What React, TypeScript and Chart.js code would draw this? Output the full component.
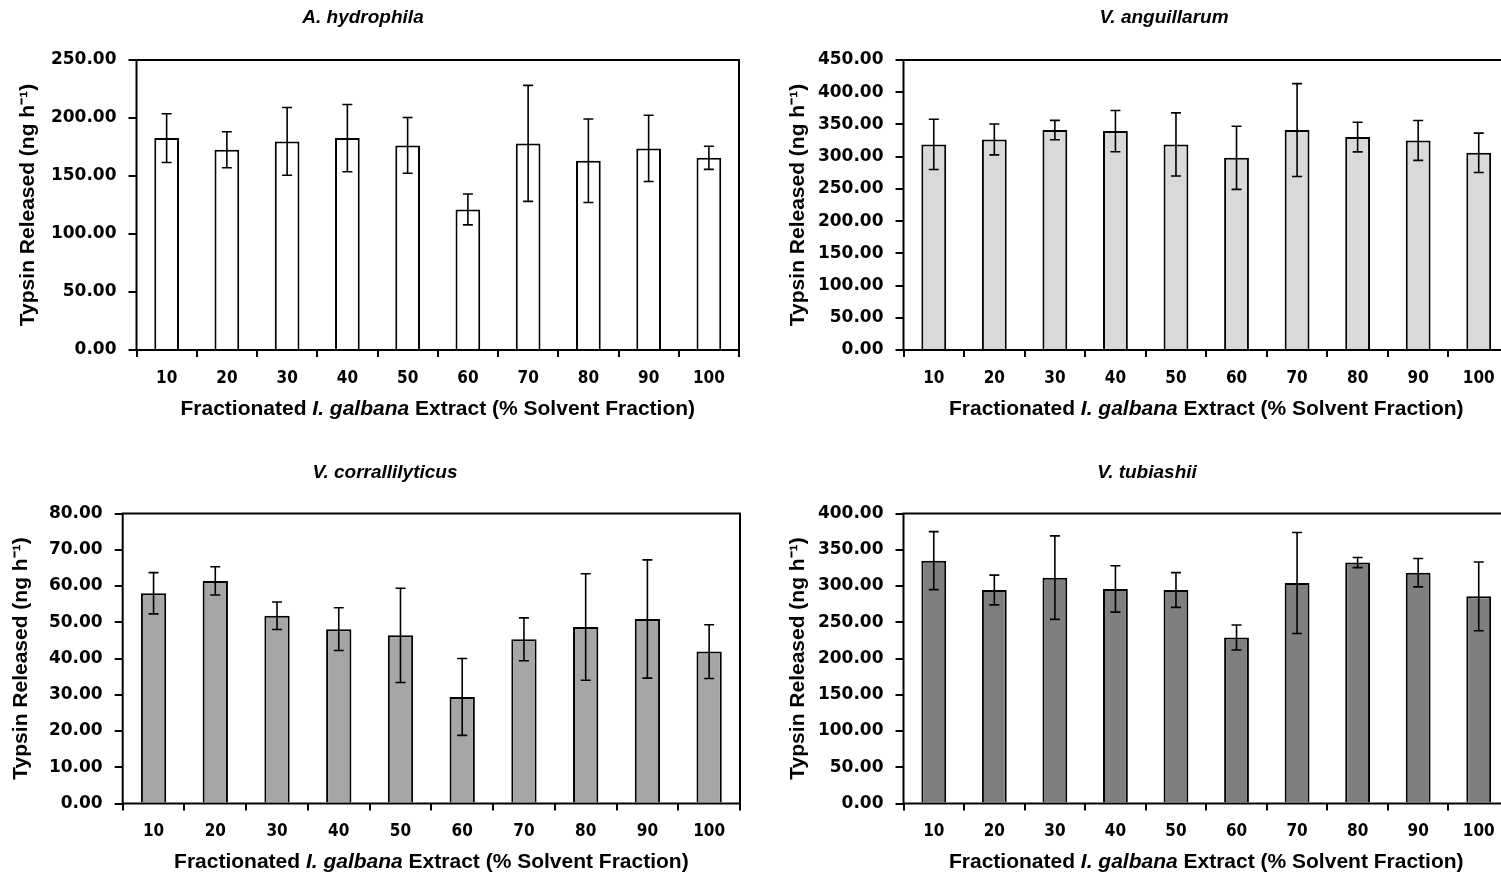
import React, { useEffect, useRef } from "react";
import { Chart, registerables } from "chart.js";

Chart.register(...registerables);

// ---------------- DATA ----------------
const categories = ["10", "20", "30", "40", "50", "60", "70", "80", "90", "100"];

const hydrophilaMeans = [182.7, 172.6, 179.8, 182.7, 176.4, 121.2, 178.1, 163.1, 173.8, 165.7];
const hydrophilaErrors = [21, 15.5, 29.2, 29, 24, 13.3, 50, 36, 28.6, 10];

const anguillarumMeans = [319, 326.8, 341.3, 339.7, 319, 298.2, 341.3, 330.4, 325.2, 306];
const anguillarumErrors = [39, 24, 15, 32, 49, 49, 72, 23, 31, 30.6];

const corrallilyticusMeans = [58.0, 61.4, 51.8, 48.1, 46.4, 29.4, 45.3, 48.7, 50.9, 41.9];
const corrallilyticusErrors = [5.7, 3.9, 3.8, 5.9, 13, 10.6, 5.9, 14.7, 16.3, 7.4];

const tubiashiiMeans = [335, 294.5, 311.5, 295.9, 294.5, 229, 304.1, 332.3, 318.4, 285.7];
const tubiashiiErrors = [40, 20.5, 57.6, 32, 24, 17.3, 69.6, 7, 19.6, 47.5];

const yTitle = "Typsin Released (ng h\u207B\u00B9)";
const xTitleParts = [
  { text: "Fractionated ", italic: false },
  { text: "I. galbana", italic: true },
  { text: " Extract (% Solvent Fraction)", italic: false },
];

// ---------------- STYLE ----------------
const YTICK_FONT = "'DejaVu Sans', Verdana, sans-serif";
const XTICK_FONT = "'DejaVu Sans Condensed', 'DejaVu Sans', sans-serif";
const WIDE = "'Liberation Sans', Arial, sans-serif";

type PanelSpec = {
  title: string;
  means: number[];
  errors: number[];
  yMax: number;
  yStep: number;
  color: string;
  left: number;
  top: number;
  width: number;
  height: number;
  padLeft: number;
  padTop: number;
  padRight: number;
  yWidth: number;
  xHeight: number;
  titleX: number;
  titleY: number;
  xTitleY: number;
};

const panels: PanelSpec[] = [
  {
    title: "A. hydrophila", means: hydrophilaMeans, errors: hydrophilaErrors, yMax: 250, yStep: 50, color: "#ffffff",
    left: 0, top: 0, width: 750, height: 438, padLeft: 12, padTop: 60, padRight: 11, yWidth: 124.5, xHeight: 88,
    titleX: 363, titleY: 18, xTitleY: 409,
  },
  {
    title: "V. anguillarum", means: anguillarumMeans, errors: anguillarumErrors, yMax: 450, yStep: 50, color: "#d9d9d9",
    left: 750, top: 0, width: 770, height: 438, padLeft: 32, padTop: 60, padRight: 11, yWidth: 121.5, xHeight: 88,
    titleX: 414, titleY: 18, xTitleY: 409,
  },
  {
    title: "V. corrallilyticus", means: corrallilyticusMeans, errors: corrallilyticusErrors, yMax: 80, yStep: 10, color: "#a6a6a6",
    left: 0, top: 438, width: 750, height: 438, padLeft: 5, padTop: 75.5, padRight: 10, yWidth: 117.7, xHeight: 72.5,
    titleX: 385, titleY: 35, xTitleY: 424,
  },
  {
    title: "V. tubiashii", means: tubiashiiMeans, errors: tubiashiiErrors, yMax: 400, yStep: 50, color: "#7f7f7f",
    left: 750, top: 438, width: 770, height: 438, padLeft: 32, padTop: 75.5, padRight: 11, yWidth: 121.5, xHeight: 72.5,
    titleX: 397, titleY: 35, xTitleY: 424,
  },
];

function Panel({ spec }: { spec: PanelSpec }) {
  const ref = useRef<HTMLCanvasElement | null>(null);

  useEffect(() => {
    const canvas = ref.current;
    if (!canvas) return;

    const decor = {
      id: "decor",
      afterDatasetsDraw(chart: any) {
        const ctx = chart.ctx;
        const area = chart.chartArea;
        const yScale = chart.scales.y;
        const meta = chart.getDatasetMeta(0);
        ctx.save();
        // error bars
        ctx.strokeStyle = "#000";
        ctx.lineWidth = 1.6;
        meta.data.forEach((bar: any, i: number) => {
          const v = spec.means[i];
          const e = spec.errors[i];
          const x = bar.x;
          const yt = yScale.getPixelForValue(v + e);
          const yb = yScale.getPixelForValue(v - e);
          ctx.beginPath();
          ctx.moveTo(x, yt);
          ctx.lineTo(x, yb);
          ctx.moveTo(x - 5, yt);
          ctx.lineTo(x + 5, yt);
          ctx.moveTo(x - 5, yb);
          ctx.lineTo(x + 5, yb);
          ctx.stroke();
        });
        // plot frame
        ctx.lineWidth = 2;
        ctx.strokeRect(area.left, area.top, area.right - area.left, area.bottom - area.top);
        ctx.restore();
      },
      afterDraw(chart: any) {
        const ctx = chart.ctx;
        const area = chart.chartArea;
        ctx.save();
        ctx.fillStyle = "#000";
        ctx.textBaseline = "middle";
        // panel title
        ctx.font = `italic bold 19px ${WIDE}`;
        ctx.textAlign = "center";
        ctx.fillText(spec.title, spec.titleX, spec.titleY);
        // x axis title with italic species name
        ctx.textAlign = "left";
        const fonts = xTitleParts.map((p) => (p.italic ? `italic bold 21px ${WIDE}` : `bold 21px ${WIDE}`));
        let total = 0;
        const widths = xTitleParts.map((p, i) => {
          ctx.font = fonts[i];
          const w = ctx.measureText(p.text).width;
          total += w;
          return w;
        });
        let x = (area.left + area.right) / 2 - total / 2;
        xTitleParts.forEach((p, i) => {
          ctx.font = fonts[i];
          ctx.fillText(p.text, x, spec.xTitleY);
          x += widths[i];
        });
        ctx.restore();
      },
    };

    const chart = new Chart(canvas, {
      type: "bar",
      data: {
        labels: categories,
        datasets: [
          {
            data: spec.means,
            backgroundColor: spec.color,
            borderColor: "#000",
            borderWidth: 2,
            borderSkipped: "start",
            categoryPercentage: 1,
            barPercentage: 0.41,
          },
        ],
      },
      options: {
        responsive: false,
        animation: false,
        devicePixelRatio: 1,
        layout: {
          padding: { left: spec.padLeft, top: spec.padTop, right: spec.padRight, bottom: 0 },
        },
        plugins: {
          legend: { display: false },
          title: { display: false },
          tooltip: { enabled: false },
        },
        scales: {
          x: {
            border: { display: false },
            grid: { display: true, drawOnChartArea: false, drawTicks: true, tickLength: 7, color: "#000", lineWidth: 2 },
            ticks: { color: "#000", padding: 11, font: { family: XTICK_FONT, size: 17, weight: "bold" }, maxRotation: 0 },
            afterFit: (s: any) => {
              s.height = spec.xHeight;
            },
          },
          y: {
            min: 0,
            max: spec.yMax,
            border: { display: false },
            grid: { display: true, drawOnChartArea: false, drawTicks: true, tickLength: 8, color: "#000", lineWidth: 2 },
            ticks: {
              stepSize: spec.yStep,
              color: "#000",
              padding: 12,
              font: { family: YTICK_FONT, size: 17, weight: "bold" },
              callback: (v: any) => Number(v).toFixed(2),
            },
            title: {
              display: true,
              text: yTitle,
              color: "#000",
              padding: { top: 4, bottom: 0 },
              font: { family: WIDE, size: 21, weight: "bold" },
            },
            afterFit: (s: any) => {
              s.width = spec.yWidth;
            },
          },
        },
      },
      plugins: [decor],
    } as any);

    return () => chart.destroy();
  }, [spec]);

  return (
    <div style={{ position: "absolute", left: spec.left, top: spec.top, width: spec.width, height: spec.height }}>
      <canvas ref={ref} width={spec.width} height={spec.height} style={{ display: "block" }} />
    </div>
  );
}

export default function App() {
  return (
    <div
      style={{
        position: "absolute",
        left: 0,
        top: 0,
        width: 1501,
        height: 876,
        overflow: "hidden",
        background: "#fff",
      }}
    >
      {panels.map((p) => (
        <Panel key={p.title} spec={p} />
      ))}
    </div>
  );
}
